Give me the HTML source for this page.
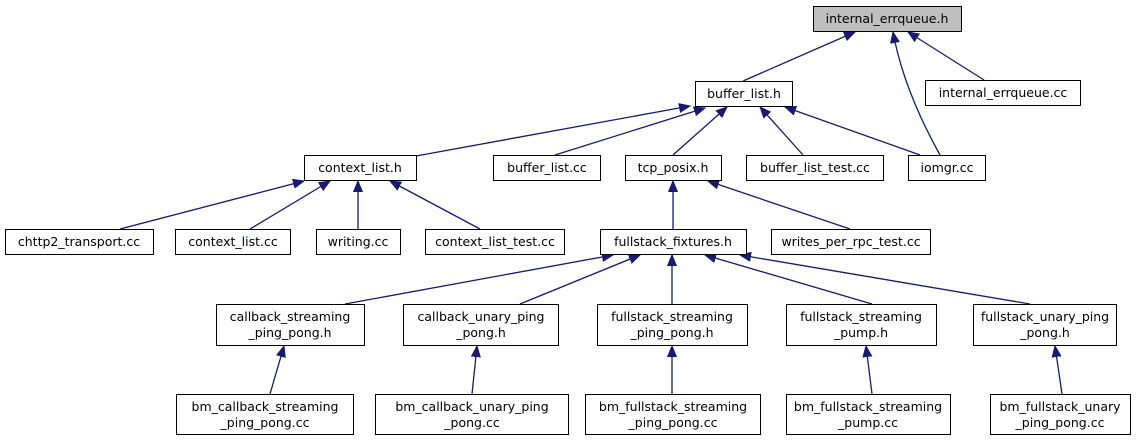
<!DOCTYPE html>
<html><head><meta charset="utf-8"><style>
html,body{margin:0;padding:0;background:#fff;}
svg text{font-family:"DejaVu Sans","Liberation Sans",sans-serif;font-size:12.5px;fill:#000;text-anchor:middle;}
</style></head><body>
<svg width="1146" height="440" viewBox="0 0 1146 440" xmlns="http://www.w3.org/2000/svg">
<defs><marker id="a" markerUnits="userSpaceOnUse" markerWidth="12" markerHeight="10" refX="11" refY="5" orient="auto"><path d="M0,0.5 L11,5 L0,9.5 z" fill="#191970" stroke="#191970"/></marker></defs>
<g stroke="#191970" stroke-width="1.3" fill="none" marker-end="url(#a)">
<path d="M743,81 L855,32"/>
<path d="M984,80 L908,32"/>
<path d="M940,155 C915,110 900,70 893,32"/>
<path d="M416,156 L690,106"/>
<path d="M555,155 L705,108"/>
<path d="M673,155 L727,107"/>
<path d="M803,155 L760,107"/>
<path d="M920,155 L785,107"/>
<path d="M120,229 L304,181"/>
<path d="M250,229 L330,181"/>
<path d="M358,229 L358,181"/>
<path d="M480,229 L390,181"/>
<path d="M673,229 L673,181"/>
<path d="M850,229 L708,181"/>
<path d="M345,304 L613,255"/>
<path d="M520,304 L640,255"/>
<path d="M672,304 L672,255"/>
<path d="M872,304 L705,255"/>
<path d="M1030,304 L740,255"/>
<path d="M270,394 L284,346"/>
<path d="M472,394 L477,346"/>
<path d="M672,394 L672,346"/>
<path d="M872,394 L866,346"/>
<path d="M1062,394 L1055,346"/>
</g>
<g stroke="#000" stroke-width="1" fill="#fff">
<rect x="813.5" y="6.5" width="148" height="25" fill="#bfbfbf"/>
<rect x="695.5" y="81.5" width="97" height="25"/>
<rect x="925.5" y="80.5" width="155" height="25"/>
<rect x="304.5" y="155.5" width="112" height="25"/>
<rect x="493.5" y="155.5" width="107" height="25"/>
<rect x="625.5" y="155.5" width="96" height="25"/>
<rect x="746.5" y="155.5" width="137" height="25"/>
<rect x="908.5" y="155.5" width="77" height="25"/>
<rect x="5.5" y="229.5" width="148" height="25"/>
<rect x="175.5" y="229.5" width="115" height="25"/>
<rect x="316.5" y="229.5" width="84" height="25"/>
<rect x="425.5" y="229.5" width="139" height="25"/>
<rect x="600.5" y="229.5" width="146" height="25"/>
<rect x="771.5" y="229.5" width="159" height="25"/>
<rect x="216.5" y="304.5" width="148" height="41"/>
<rect x="403.5" y="304.5" width="155" height="41"/>
<rect x="597.5" y="304.5" width="150" height="41"/>
<rect x="786.5" y="304.5" width="150" height="41"/>
<rect x="973.5" y="304.5" width="143" height="41"/>
<rect x="176.5" y="394.5" width="177" height="40"/>
<rect x="375.5" y="394.5" width="193" height="40"/>
<rect x="585.5" y="394.5" width="175" height="40"/>
<rect x="786.5" y="394.5" width="164" height="40"/>
<rect x="990.5" y="394.5" width="140" height="40"/>
</g>
<text x="887" y="23">internal_errqueue.h</text>
<text x="744" y="98">buffer_list.h</text>
<text x="1003" y="97">internal_errqueue.cc</text>
<text x="360" y="172">context_list.h</text>
<text x="547" y="172">buffer_list.cc</text>
<text x="673" y="172">tcp_posix.h</text>
<text x="815" y="172">buffer_list_test.cc</text>
<text x="947" y="172">iomgr.cc</text>
<text x="79" y="246">chttp2_transport.cc</text>
<text x="233" y="246">context_list.cc</text>
<text x="358" y="246">writing.cc</text>
<text x="495" y="246">context_list_test.cc</text>
<text x="673" y="246">fullstack_fixtures.h</text>
<text x="851" y="246">writes_per_rpc_test.cc</text>
<text x="290" y="321">callback_streaming</text><text x="290" y="337">_ping_pong.h</text>
<text x="481" y="321">callback_unary_ping</text><text x="481" y="337">_pong.h</text>
<text x="672" y="321">fullstack_streaming</text><text x="672" y="337">_ping_pong.h</text>
<text x="861" y="321">fullstack_streaming</text><text x="861" y="337">_pump.h</text>
<text x="1045" y="321">fullstack_unary_ping</text><text x="1045" y="337">_pong.h</text>
<text x="265" y="411">bm_callback_streaming</text><text x="265" y="427">_ping_pong.cc</text>
<text x="472" y="411">bm_callback_unary_ping</text><text x="472" y="427">_pong.cc</text>
<text x="673" y="411">bm_fullstack_streaming</text><text x="673" y="427">_ping_pong.cc</text>
<text x="868" y="411">bm_fullstack_streaming</text><text x="868" y="427">_pump.cc</text>
<text x="1060" y="411">bm_fullstack_unary</text><text x="1060" y="427">_ping_pong.cc</text>
</svg>
</body></html>
